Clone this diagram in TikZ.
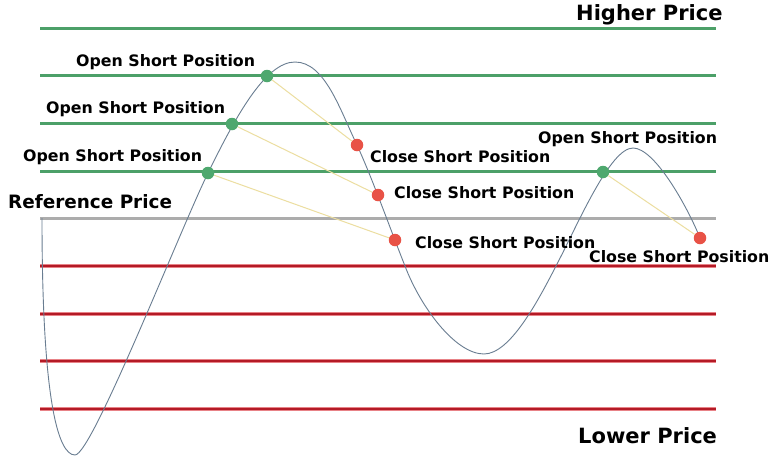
\documentclass[tikz,border=0pt]{standalone}
\usepackage{fontspec}
\setmainfont{DejaVu Sans}
\definecolor{lgreen}{RGB}{76,160,104}
\definecolor{lred}{RGB}{180,26,38}
\definecolor{lredglow}{RGB}{232,130,135}
\definecolor{lgray}{RGB}{172,172,172}
\definecolor{curvec}{RGB}{105,125,145}
\definecolor{linky}{RGB}{236,222,160}
\definecolor{dgreen}{RGB}{78,168,110}
\definecolor{dred}{RGB}{232,82,70}
\begin{document}
\begin{tikzpicture}[x=1pt,y=-1pt,
  greenline/.style={draw=lgreen,line width=3pt},
  grayline/.style={draw=lgray,line width=3pt},
  redglow/.style={draw=lredglow,line width=4.5pt},
  redline/.style={draw=lred,line width=2.8pt},
  pricecurve/.style={draw=curvec,line width=0.9pt},
  link/.style={draw=linky,line width=1pt},
  opendot/.style={circle,fill=dgreen,inner sep=0pt,minimum size=12.5pt},
  closedot/.style={circle,fill=dred,inner sep=0pt,minimum size=12.5pt},
  lbl/.style={font=\bfseries\fontsize{15.8}{18}\selectfont,inner sep=0pt,anchor=base west},
  biglbl/.style={font=\bfseries\fontsize{21}{24}\selectfont,inner sep=0pt,anchor=base west},
  reflbl/.style={font=\bfseries\fontsize{18.4}{21}\selectfont,inner sep=0pt,anchor=base west}]
\useasboundingbox (0,0) rectangle (780,464);
\fill[white] (0,0) rectangle (780,464);
% price levels
\foreach \yy in {28,75,123,171} \draw[greenline] (40,\yy) -- (716,\yy);
\draw[grayline] (40,218) -- (716,218);
\foreach \yy in {266,314,361,409} {\draw[redglow] (40,\yy) -- (716,\yy); \draw[redline] (40,\yy) -- (716,\yy);}
% price curve
\draw[pricecurve] (42,218)
  .. controls (42,400) and (58,455) .. (75,455)
  .. controls (92,455) and (180,230) .. (208,173)
  .. controls (235,118) and (265,62) .. (295,62)
  .. controls (325,62) and (340,110) .. (357,145)
  .. controls (373,180) and (391,231) .. (405,266)
  .. controls (420,306) and (455,354) .. (484,354)
  .. controls (510,354) and (538,301) .. (556,266)
  .. controls (578,224) and (610,148) .. (633,148)
  .. controls (655,148) and (688,208) .. (700,238);
% dots
\node[opendot] (o1) at (267,76) {};
\node[opendot] (o2) at (232,124) {};
\node[opendot] (o3) at (208,173) {};
\node[opendot] (o4) at (603,172) {};
\node[closedot] (c1) at (357,145) {};
\node[closedot] (c2) at (378,195) {};
\node[closedot] (c3) at (395,240) {};
\node[closedot] (c4) at (700,238) {};
\draw[link] (o1) -- (c1);
\draw[link] (o2) -- (c2);
\draw[link] (o3) -- (c3);
\draw[link] (o4) -- (c4);
% labels
\node[biglbl] (hp) at (576,20) {Higher Price};
\node[biglbl] (lp) at (578,443) {Lower Price};
\node[reflbl] (rp) at (8,208) {Reference Price};
\node[lbl] (t1) at (76,66) {Open Short Position};
\node[lbl] (t2) at (46,113) {Open Short Position};
\node[lbl] (t3) at (23,161) {Open Short Position};
\node[lbl] (t4) at (538,143) {Open Short Position};
\node[lbl] (k1) at (370,162) {Close Short Position};
\node[lbl] (k2) at (394,198) {Close Short Position};
\node[lbl] (k3) at (415,248) {Close Short Position};
\node[lbl] (k4) at (589,262) {Close Short Position};
\end{tikzpicture}
\end{document}
